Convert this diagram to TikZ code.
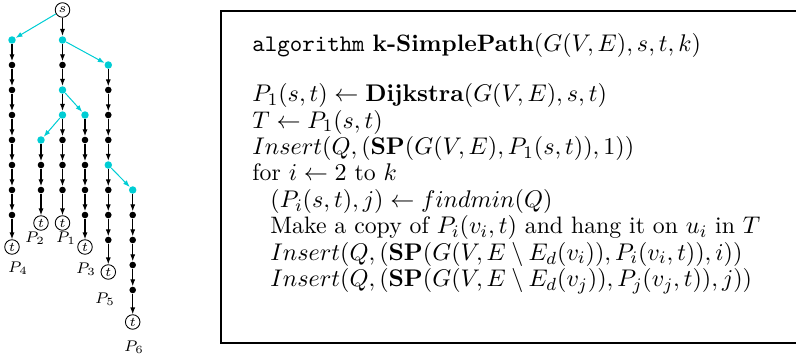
\documentclass[tikz,border=0pt]{standalone}
\usetikzlibrary{arrows.meta}
\definecolor{tcyan}{RGB}{0,205,212}
\begin{document}
\begin{tikzpicture}[x=0.4545pt,y=-0.4545pt,
  dot/.style={circle,fill=black,inner sep=0pt,minimum size=3.0pt},
  cdot/.style={circle,fill=tcyan,inner sep=0pt,minimum size=3.4pt},
  term/.style={circle,draw,line width=0.4pt,inner sep=0pt,minimum size=6.6pt,font=\fontsize{6}{7}\selectfont},
  plab/.style={inner sep=0pt,font=\fontsize{7.3}{8}\selectfont},
  arr/.style={draw=black,line width=0.5pt,-{Latex[length=3.1pt,width=2.3pt]}},
  carr/.style={draw=tcyan,line width=0.45pt,-{Latex[length=3.1pt,width=2.3pt]},fill=tcyan},
  algline/.style={anchor=base west,inner sep=0pt,font=\fontsize{10.8}{13}\selectfont}]
\useasboundingbox (0,0) rectangle (796,355);
% ---------- tree ----------
\node[term] (s) at (62.5,10) {$s$};
% column A (P4)
\node[cdot] (a0) at (12,40) {};
\foreach \n/\y in {a1/65,a2/90,a3/115,a4/140,a5/165,a6/190,a7/215}
  \node[dot] (\n) at (12,\y) {};
\node[term] (ta) at (12,247) {$t$};
% column C (P1)
\node[cdot] (c0) at (62.5,40) {};
\node[dot] (c1) at (62.5,65) {};
\node[cdot] (c2) at (62.5,90) {};
\node[cdot] (c3) at (62.5,115) {};
\foreach \n/\y in {c4/140,c5/165,c6/190}
  \node[dot] (\n) at (62.5,\y) {};
\node[term] (tc) at (62.5,223) {$t$};
% column B (P2)
\node[cdot] (b0) at (41,140) {};
\foreach \n/\y in {b1/165,b2/190}
  \node[dot] (\n) at (41,\y) {};
\node[term] (tb) at (41,223) {$t$};
% column D (P3)
\node[cdot] (d0) at (85,115) {};
\foreach \n/\y in {d1/140,d2/165,d3/190,d4/215}
  \node[dot] (\n) at (85,\y) {};
\node[term] (td) at (85,247) {$t$};
% column E (P5)
\node[cdot] (e0) at (108.3,65) {};
\foreach \n/\y in {e1/90,e2/115,e3/140}
  \node[dot] (\n) at (108.3,\y) {};
\node[cdot] (e4) at (108.3,165) {};
\foreach \n/\y in {e5/190,e6/215,e7/240}
  \node[dot] (\n) at (108.3,\y) {};
\node[term] (te) at (108.3,272) {$t$};
% column F (P6)
\node[cdot] (f0) at (132.7,190) {};
\foreach \n/\y in {f1/215,f2/240,f3/265,f4/290}
  \node[dot] (\n) at (132.7,\y) {};
\node[term] (tf) at (132.7,322) {$t$};
% black edges
\foreach \u/\v in {s/c0,c0/c1,c1/c2,c2/c3,c3/c4,c4/c5,c5/c6,c6/tc,
  a0/a1,a1/a2,a2/a3,a3/a4,a4/a5,a5/a6,a6/a7,a7/ta,
  b0/b1,b1/b2,b2/tb,
  d0/d1,d1/d2,d2/d3,d3/d4,d4/td,
  e0/e1,e1/e2,e2/e3,e3/e4,e4/e5,e5/e6,e6/e7,e7/te,
  f0/f1,f1/f2,f2/f3,f3/f4,f4/tf}
  \draw[arr] (\u) -- (\v);
% cyan edges
\foreach \u/\v in {s/a0,c0/e0,c2/d0,c3/b0,e4/f0}
  \draw[carr] (\u) -- (\v);
% path labels
\node[plab] (p4) at (18,268) {$P_4$};
\node[plab] (p2) at (35,238) {$P_2$};
\node[plab] (p1) at (66,238) {$P_1$};
\node[plab] (p3) at (86,269) {$P_3$};
\node[plab] (p5) at (105,299) {$P_5$};
\node[plab] (p6) at (134,347) {$P_6$};
% ---------- algorithm box ----------
\draw[line width=0.95pt] (796,11) -- (221,11) -- (221,343) -- (796,343);
\node[algline] (l0) at (252,51.7) {\texttt{algorithm} \textbf{k-SimplePath}$(G(V,E),s,t,k)$};
\node[algline] (l1) at (252,101.7) {$P_1(s,t)\leftarrow\mathbf{Dijkstra}(G(V,E),s,t)$};
\node[algline] (l2) at (252,128.1) {$T\leftarrow P_1(s,t)$};
\node[algline] (l3) at (252,154.5) {$Insert(Q,(\mathbf{SP}(G(V,E),P_1(s,t)),1))$};
\node[algline] (l4) at (252,181) {for $i\leftarrow 2$ to $k$};
\node[algline] (l5) at (270,207.4) {$(P_i(s,t),j)\leftarrow findmin(Q)$};
\node[algline] (l6) at (270,233.8) {Make a copy of $P_i(v_i,t)$ and hang it on $u_i$ in $T$};
\node[algline] (l7) at (270,260.2) {$Insert(Q,(\mathbf{SP}(G(V,E\setminus E_d(v_i)),P_i(v_i,t)),i))$};
\node[algline] (l8) at (270,286.6) {$Insert(Q,(\mathbf{SP}(G(V,E\setminus E_d(v_j)),P_j(v_j,t)),j))$};
\end{tikzpicture}
\end{document}
